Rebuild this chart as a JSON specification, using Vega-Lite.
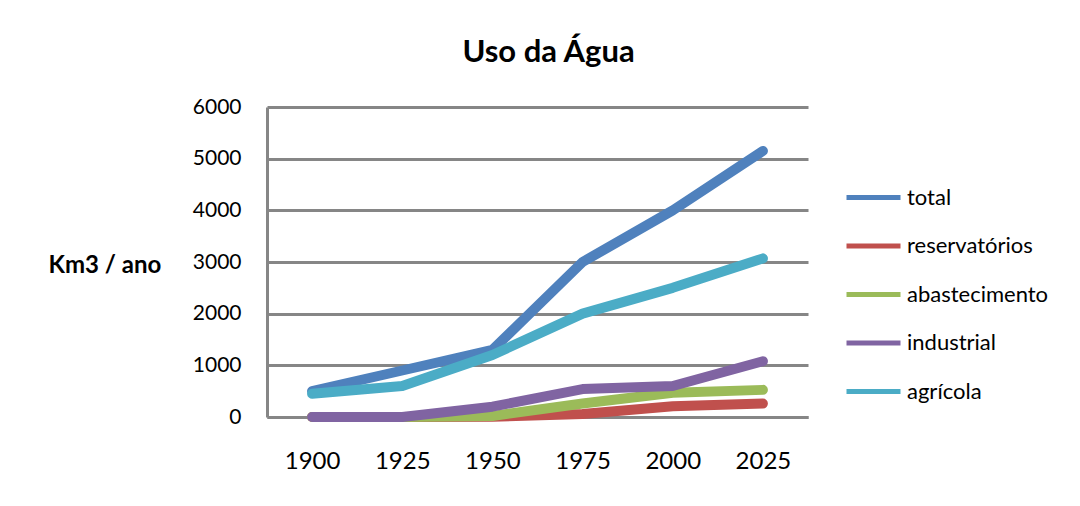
{
  "$schema": "https://vega.github.io/schema/vega-lite/v6.json",
  "width": 541,
  "height": 310,
  "autosize": {"type": "none"},
  "padding": {"left": 267, "top": 107, "right": 272, "bottom": 89},
  "background": "white",
  "title": {
    "text": "Uso da Água",
    "font": "Lato",
    "fontSize": 31,
    "fontWeight": "bold",
    "color": "black",
    "anchor": "middle",
    "dx": 11,
    "offset": 27
  },
  "data": {
    "values": [
      {"ano": "1900", "uso": "total", "valor": 500},
      {"ano": "1925", "uso": "total", "valor": 900},
      {"ano": "1950", "uso": "total", "valor": 1300},
      {"ano": "1975", "uso": "total", "valor": 3000},
      {"ano": "2000", "uso": "total", "valor": 4000},
      {"ano": "2025", "uso": "total", "valor": 5150},
      {"ano": "1900", "uso": "reservatórios", "valor": 0},
      {"ano": "1925", "uso": "reservatórios", "valor": 0},
      {"ano": "1950", "uso": "reservatórios", "valor": 5},
      {"ano": "1975", "uso": "reservatórios", "valor": 60},
      {"ano": "2000", "uso": "reservatórios", "valor": 210},
      {"ano": "2025", "uso": "reservatórios", "valor": 260},
      {"ano": "1900", "uso": "abastecimento", "valor": 0},
      {"ano": "1925", "uso": "abastecimento", "valor": 0},
      {"ano": "1950", "uso": "abastecimento", "valor": 20},
      {"ano": "1975", "uso": "abastecimento", "valor": 260},
      {"ano": "2000", "uso": "abastecimento", "valor": 470},
      {"ano": "2025", "uso": "abastecimento", "valor": 525},
      {"ano": "1900", "uso": "industrial", "valor": 0},
      {"ano": "1925", "uso": "industrial", "valor": 0},
      {"ano": "1950", "uso": "industrial", "valor": 200},
      {"ano": "1975", "uso": "industrial", "valor": 540},
      {"ano": "2000", "uso": "industrial", "valor": 600},
      {"ano": "2025", "uso": "industrial", "valor": 1080},
      {"ano": "1900", "uso": "agrícola", "valor": 450},
      {"ano": "1925", "uso": "agrícola", "valor": 600},
      {"ano": "1950", "uso": "agrícola", "valor": 1200},
      {"ano": "1975", "uso": "agrícola", "valor": 2000},
      {"ano": "2000", "uso": "agrícola", "valor": 2500},
      {"ano": "2025", "uso": "agrícola", "valor": 3070}
    ]
  },
  "mark": {"type": "line", "strokeWidth": 10, "strokeCap": "round", "strokeJoin": "round", "clip": false},
  "encoding": {
    "x": {
      "field": "ano",
      "type": "ordinal",
      "scale": {"type": "point", "padding": 0.5},
      "axis": {
        "title": null,
        "labelAngle": 0,
        "labelFont": "Lato",
        "labelFontSize": 24,
        "labelColor": "black",
        "labelPadding": 32,
        "ticks": false,
        "grid": false,
        "domainColor": "#868686",
        "domainWidth": 3
      }
    },
    "y": {
      "field": "valor",
      "type": "quantitative",
      "scale": {"domain": [0, 6000], "nice": false},
      "axis": {
        "values": [0, 1000, 2000, 3000, 4000, 5000, 6000],
        "format": "d",
        "title": "Km3 / ano",
        "titleAngle": 0,
        "titleAlign": "left",
        "titleBaseline": "middle",
        "titleX": -219,
        "titleY": 158,
        "titleFont": "Lato",
        "titleFontSize": 24,
        "titleFontWeight": "bold",
        "titleColor": "black",
        "labelFont": "Lato",
        "labelFontSize": 21,
        "labelColor": "black",
        "labelPadding": 26,
        "ticks": false,
        "grid": true,
        "gridColor": "#868686",
        "gridWidth": 3,
        "domainColor": "#868686",
        "domainWidth": 3
      }
    },
    "color": {
      "field": "uso",
      "type": "nominal",
      "sort": ["total", "reservatórios", "abastecimento", "industrial", "agrícola"],
      "scale": {
        "domain": ["total", "reservatórios", "abastecimento", "industrial", "agrícola"],
        "range": ["#4F81BD", "#C0504D", "#9BBB59", "#8064A2", "#4BACC6"]
      },
      "legend": {
        "title": null,
        "orient": "none",
        "legendX": 577,
        "legendY": 61,
        "symbolType": "stroke",
        "symbolSize": 2916,
        "symbolStrokeWidth": 5,
        "labelFont": "Lato",
        "labelFontSize": 22,
        "labelColor": "black",
        "labelOffset": 4,
        "rowPadding": 7.5
      }
    }
  },
  "config": {
    "view": {"stroke": null}
  }
}
